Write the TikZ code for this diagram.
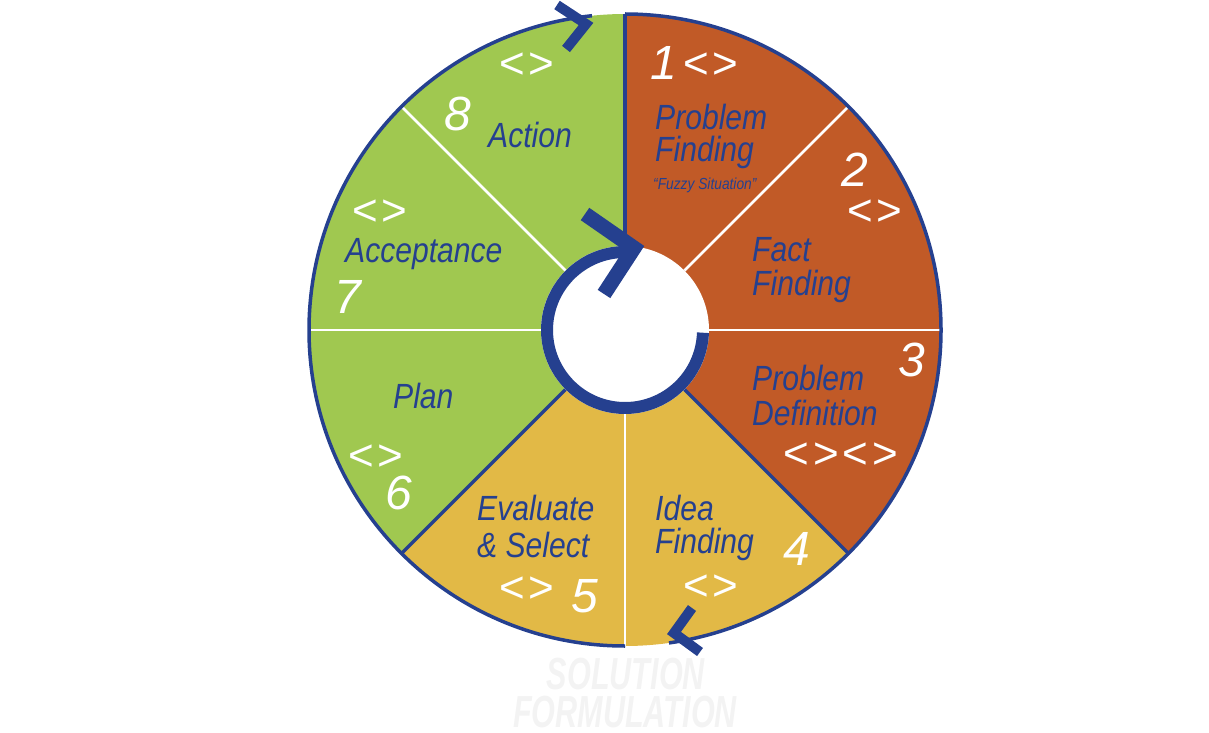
\documentclass[tikz,border=0pt]{standalone}
\usepackage{fontspec}
\newfontfamily\lblfont[FakeStretch=0.86]{Liberation Sans}
\newfontfamily\digfont{Liberation Sans}
\newfontfamily\solfont[FakeStretch=0.68]{Liberation Sans}
\definecolor{orng}{HTML}{C15A27}
\definecolor{grn}{HTML}{A0C850}
\definecolor{ylw}{HTML}{E2B946}
\definecolor{myblue}{HTML}{25408F}
\definecolor{ghost}{HTML}{F3F3F3}
\tikzset{
  lbl/.style={font=\lblfont\itshape\fontsize{35}{35}\selectfont, text=myblue, inner sep=0pt, anchor=base west},
  small/.style={font=\lblfont\itshape\fontsize{16}{16}\selectfont, text=myblue, inner sep=0pt, anchor=base west},
  dig/.style={font=\digfont\itshape\fontsize{48}{48}\selectfont, text=white, inner sep=0pt},
  chev/.style={font=\digfont\fontsize{44}{44}\selectfont, text=white, inner sep=0pt},
  sol/.style={font=\solfont\bfseries\itshape\fontsize{45}{45}\selectfont, text=ghost, inner sep=0pt},
  wdiv/.style={white, line width=2.5pt},
  bdiv/.style={myblue, line width=3.5pt},
  rim/.style={myblue, line width=3.5pt},
  arrowhd/.style={myblue, line width=10pt, line join=miter, line cap=butt},
}
\begin{document}
\begin{tikzpicture}[x=1pt,y=1pt]
\useasboundingbox (0,0) rectangle (1209,732);
\coordinate (C) at (625,402);
% sectors
\fill[orng] (C) -- ([shift={(C)}]90:316pt) arc[start angle=90,end angle=-45,radius=316pt] -- cycle;
\fill[ylw] (C) -- ([shift={(C)}]-45:316pt) arc[start angle=-45,end angle=-135,radius=316pt] -- cycle;
\fill[grn] (C) -- ([shift={(C)}]-135:316pt) arc[start angle=-135,end angle=-270,radius=316pt] -- cycle;
% dividers
\foreach \a in {45,0,180,135,-90}
  \draw[wdiv] ([shift={(C)}]\a:84pt) -- ([shift={(C)}]\a:316pt);
\foreach \a in {90,-45,-135}
  \draw[bdiv] ([shift={(C)}]\a:84pt) -- ([shift={(C)}]\a:316pt);
% outer arcs
\draw[rim] ([shift={(C)}]-90:316pt) arc[start angle=-90,end angle=-264,radius=316pt];
\draw[rim] ([shift={(C)}]90:316pt) arc[start angle=90,end angle=-82,radius=316pt];
\draw[arrowhd] (557,727) -- (586,708) -- (566,683);
\draw[arrowhd] (692,124) -- (674,99) -- (700,80);
% inner hole and ring
\fill[white] (C) circle[radius=84pt];
\draw[myblue, line width=12pt] ([shift={(C)}]-2:78pt) arc[start angle=-2,end angle=-278,radius=78pt];
\draw[arrowhd, line width=15pt] (585,518) -- (634,484) -- (604,438);
% sector 1
\node[dig] (d1) at (664,669) {1};
\node[chev] (c1) at (711,666) {<\kern4pt>};
\node[lbl] (t1a) at (655,602) {Problem};
\node[lbl] (t1b) at (655,570) {Finding};
\node[small] (t1c) at (653,542) {“Fuzzy Situation”};
% sector 2
\node[dig] (d2) at (855,562) {2};
\node[chev] (c2) at (875,519) {<\kern4pt>};
\node[lbl] (t2a) at (752,470) {Fact};
\node[lbl] (t2b) at (752,436) {Finding};
% sector 3
\node[dig] (d3) at (912,372) {3};
\node[chev] (c3) at (841,276) {<\kern4pt>\kern4pt<\kern4pt>};
\node[lbl] (t3a) at (752,342) {Problem};
\node[lbl] (t3b) at (752,307) {Definition};
% sector 4
\node[dig] (d4) at (797,183) {4};
\node[chev] (c4) at (711,144) {<\kern4pt>};
\node[lbl] (t4a) at (655,212) {Idea};
\node[lbl] (t4b) at (655,179) {Finding};
% sector 5
\node[dig] (d5) at (585,136) {5};
\node[chev] (c5) at (527,142) {<\kern4pt>};
\node[lbl] (t5a) at (477,212) {Evaluate};
\node[lbl] (t5b) at (477,175) {\& Select};
% sector 6
\node[dig] (d6) at (399,239) {6};
\node[chev] (c6) at (376,274) {<\kern4pt>};
\node[lbl] (t6a) at (393,324) {Plan};
% sector 7
\node[dig] (d7) at (348,435) {7};
\node[chev] (c7) at (380,519) {<\kern4pt>};
\node[lbl] (t7a) at (345,469) {Acceptance};
% sector 8
\node[dig] (d8) at (458,618) {8};
\node[chev] (c8) at (527,666) {<\kern4pt>};
\node[lbl] (t8a) at (488,584) {Action};
% bottom caption
\node[sol] (s1) at (626,58) {SOLUTION};
\node[sol] (s2) at (625,20) {FORMULATION};
\end{tikzpicture}
\end{document}
